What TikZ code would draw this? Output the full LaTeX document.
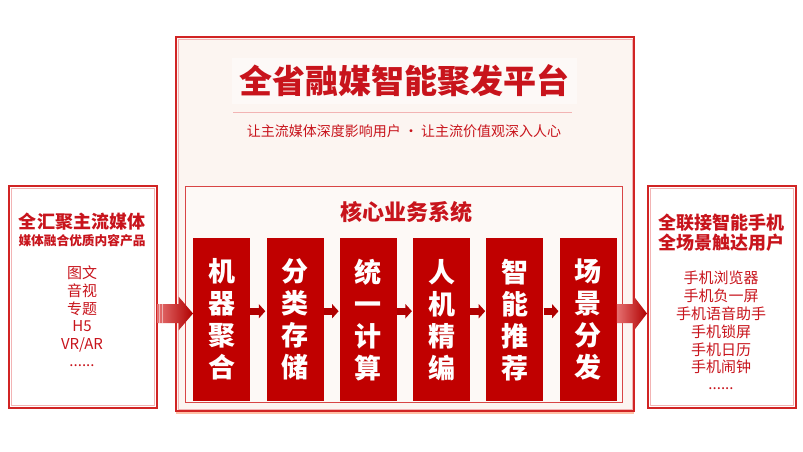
\documentclass[tikz,border=0pt]{standalone}
\usepackage{fontspec}
\setmainfont{Noto Sans CJK SC}
\usetikzlibrary{calc,arrows.meta,shadows}
\definecolor{boxred}{HTML}{C00000}
\definecolor{txtred}{HTML}{C8141C}
\definecolor{bordred}{HTML}{D12424}
\definecolor{pinkline}{HTML}{F2B4B4}
\definecolor{cream}{HTML}{FCF5F1}
\definecolor{creamin}{HTML}{FDF9F6}
\definecolor{arrowdark}{HTML}{B00000}
\definecolor{arrowlight}{HTML}{E57070}
\begin{document}
\begin{tikzpicture}[x=1pt,y=-1pt,
  sidebox/.style={draw=bordred, line width=1.5pt, fill=white, minimum width=148pt, minimum height=222pt, anchor=north west, inner sep=0pt},
  mainbox/.style={draw=bordred, line width=2pt, fill=cream, minimum width=458pt, minimum height=374pt, anchor=north west, inner sep=0pt,
    drop shadow={shadow xshift=0pt, shadow yshift=-2.5pt, opacity=.35, fill=orange!60!red}},
  corebox/.style={draw=bordred!85, line width=0.8pt, fill=creamin, minimum width=437pt, minimum height=216pt, anchor=north west, inner sep=0pt},
  stepbox/.style={fill=boxred, minimum width=57pt, minimum height=163pt, anchor=north west, text=white, inner sep=0pt,
    font=\fontsize{27}{32}\selectfont\bfseries, align=center},
  headtxt/.style={text=txtred, font=\fontsize{18}{18}\selectfont\bfseries, inner sep=0pt},
  itemtxt/.style={text=txtred, font=\fontsize{15}{15}\selectfont, inner sep=0pt},
  smallarrow/.style={arrowdark, line width=7pt, -{Triangle[width=14pt,length=6.5pt]}},
  innerline/.style={draw=pinkline, line width=0.6pt}
]
\useasboundingbox[fill=white] (0,0) rectangle (803,452);

% main platform box
\node[mainbox] (main) at (175,36) {};
\draw[innerline] ($(main.north west)+(3,3)$) rectangle ($(main.south east)+(-3,-3)$);

% title
\node[fill=white, fill opacity=.45, text opacity=1, minimum width=345pt, minimum height=46pt, inner sep=0pt,
  text=txtred, font=\fontsize{33}{33}\selectfont\bfseries] (title) at (404,81) {全省融媒智能聚发平台};
\draw[pinkline, line width=0.8pt] (233,112) -- (572,112);
\node[text=txtred, font=\fontsize{14}{14}\selectfont, inner sep=0pt] (sub) at (404,131) {让主流媒体深度影响用户 • 让主流价值观深入人心};

% core box
\node[corebox] (core) at (185,186) {};
\node[text=txtred, font=\fontsize{22}{22}\selectfont\bfseries, inner sep=0pt] (coretitle) at (406,212) {核心业务系统};

\node[stepbox] (b1) at (193,238) {机\\器\\聚\\合};
\node[stepbox] (b2) at (266.3,238) {分\\类\\存\\储};
\node[stepbox] (b3) at (339.6,238) {统\\一\\计\\算};
\node[stepbox] (b4) at (412.9,238) {人\\机\\精\\编};
\node[stepbox] (b5) at (486.2,238) {智\\能\\推\\荐};
\node[stepbox] (b6) at (559.5,238) {场\\景\\分\\发};

\foreach \a/\b in {b1/b2,b2/b3,b3/b4,b4/b5,b5/b6}{
  \draw[smallarrow] ($(\a.east)+(0,-8.5)$) -- ($(\b.west)+(-1,-8.5)$);
}

% left box
\node[sidebox] (lb) at (8,185) {};
\draw[innerline] ($(lb.north west)+(3,3)$) rectangle ($(lb.south east)+(-3,-3)$);
\node[headtxt] (lh1) at (82,222) {全汇聚主流媒体};
\node[headtxt, font=\fontsize{12.7}{12.7}\selectfont\bfseries] (lh2) at (82,241) {媒体融合优质内容产品};
\node[itemtxt] (li1) at (82,273) {图文};
\node[itemtxt] (li2) at (82,291) {音视};
\node[itemtxt] (li3) at (82,308.5) {专题};
\node[itemtxt] (li4) at (82,326.5) {H5};
\node[itemtxt] (li5) at (82,344.5) {VR/AR};
\node[itemtxt] (li6) at (82,366) {......};

% right box
\node[sidebox] (rb) at (647,185) {};
\draw[innerline] ($(rb.north west)+(3,3)$) rectangle ($(rb.south east)+(-3,-3)$);
\node[headtxt] (rh1) at (721,223) {全联接智能手机};
\node[headtxt] (rh2) at (721,243) {全场景触达用户};
\node[itemtxt] (ri1) at (721,277.5) {手机浏览器};
\node[itemtxt] (ri2) at (721,296) {手机负一屏};
\node[itemtxt] (ri3) at (721,313.5) {手机语音助手};
\node[itemtxt] (ri4) at (721,332) {手机锁屏};
\node[itemtxt] (ri5) at (721,350) {手机日历};
\node[itemtxt] (ri6) at (721,367) {手机闹钟};
\node[itemtxt] (ri7) at (721,389) {......};

% big arrows
\coordinate (ay) at (0,313.5);
\coordinate (ls) at (lb.east |- ay);
\coordinate (lt) at (b1.west |- ay);
\shade[left color=arrowlight, right color=arrowdark]
  ($(ls)+(0,-9.5)$) -- ($(ls)+(21,-9.5)$) -- ($(ls)+(21,-17)$) -- (lt) -- ($(ls)+(21,17)$) -- ($(ls)+(21,9.5)$) -- ($(ls)+(0,9.5)$) -- cycle;
\foreach \dx in {2,5}{
  \draw[white, opacity=.5, line width=0.6pt] ($(ls)+(\dx,-9.5)$) -- ($(ls)+(\dx,9.5)$);
}
\coordinate (rs) at (b6.east |- ay);
\coordinate (rt) at (rb.west |- ay);
\shade[left color=arrowlight, right color=arrowdark]
  ($(rs)+(0,-9.5)$) -- ($(rs)+(17,-9.5)$) -- ($(rs)+(17,-17)$) -- (rt) -- ($(rs)+(17,17)$) -- ($(rs)+(17,9.5)$) -- ($(rs)+(0,9.5)$) -- cycle;
\end{tikzpicture}
\end{document}
